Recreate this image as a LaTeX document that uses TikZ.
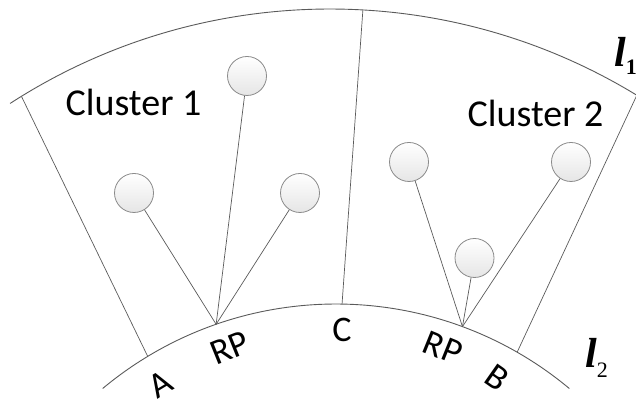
\documentclass[tikz,border=0pt]{standalone}
\usepackage{fontspec}
\setmainfont{Carlito}
\newfontfamily\lfont{Liberation Serif}
\usetikzlibrary{calc}
\definecolor{linegray}{HTML}{5A5A5A}
\definecolor{circgray}{HTML}{8A8A8A}
\tikzset{
  arcline/.style={draw=linegray, line width=0.9pt},
  conn/.style={draw=linegray, line width=0.7pt},
  sensor/.style={circle, draw=circgray, line width=0.8pt, minimum size=39pt, inner sep=0pt,
    top color=white, bottom color=black!10},
  cluster/.style={font=\fontsize{38}{38}\selectfont, inner sep=0pt, anchor=base},
  ptlabel/.style={font=\fontsize{36}{36}\selectfont, inner sep=0pt},
}
\begin{document}
\begin{tikzpicture}[x=1pt,y=1pt]
\useasboundingbox (0,0) rectangle (636,403);
% circle centres
\coordinate (oc) at (330,-195);
\coordinate (ic) at (336,-265.5);
% arc ends
\coordinate (os) at ($(oc)+(122.9:589pt)$);
\coordinate (is) at ($(ic)+(129.8:364.5pt)$);
% points on the outer arc
\coordinate (At) at ($(oc)+(121.6:588.5pt)$);
\coordinate (Ct) at ($(oc)+(86.8:588.5pt)$);
\coordinate (Bt) at ($(oc)+(58.6:588.5pt)$);
% points on the inner arc
\coordinate (Af) at ($(ic)+(121.1:364.5pt)$);
\coordinate (RP1) at ($(ic)+(109.2:364.5pt)$);
\coordinate (Cf) at ($(ic)+(89.05:364.5pt)$);
\coordinate (RP2) at ($(ic)+(69.7:364.5pt)$);
\coordinate (Bf) at ($(ic)+(60.2:364.5pt)$);
% arcs
\draw[arcline] (os) arc[start angle=122.9, end angle=58.3, radius=589pt];
\draw[arcline] (is) arc[start angle=129.8, end angle=50.2, radius=364.5pt];
% boundary lines
\draw[conn] (At) -- (Af);
\draw[conn] (Ct) -- (Cf);
\draw[conn] (Bt) -- (Bf);
% sensors
\node[sensor] (c1) at (247,327) {};
\node[sensor] (c2) at (134,210) {};
\node[sensor] (c3) at (300,210) {};
\node[sensor] (c4) at (409,241) {};
\node[sensor] (c5) at (571,241) {};
\node[sensor] (c6) at (474.5,145) {};
\draw[conn] (RP1) -- (c1);
\draw[conn] (RP1) -- (c2);
\draw[conn] (RP1) -- (c3);
\draw[conn] (RP2) -- (c4);
\draw[conn] (RP2) -- (c5);
\draw[conn] (RP2) -- (c6);
% texts
\node[cluster] (t1) at (133.5,287) {Cluster 1};
\node[cluster] (t2) at (535.5,276) {Cluster 2};
\node[ptlabel, rotate=31] (lA) at (160,19) {A};
\node[ptlabel, rotate=22] (lR1) at (230,55) {RP};
\node[ptlabel] (lC) at (342,73) {C};
\node[ptlabel, rotate=-22] (lR2) at (443,55) {RP};
\node[ptlabel, rotate=-35] (lB) at (497,25) {B};
\node[inner sep=0pt, anchor=base west] (l1) at (614,336)
  {\lfont\fontsize{42}{42}\selectfont\bfseries\itshape l\raisebox{-8pt}{\fontsize{22}{22}\selectfont\upshape 1}};
\node[inner sep=0pt, anchor=base west] (l2) at (585,35)
  {\lfont\fontsize{42}{42}\selectfont\bfseries\itshape l\raisebox{-10pt}{\fontsize{22}{22}\selectfont\mdseries\upshape 2}};
\end{tikzpicture}
\end{document}
